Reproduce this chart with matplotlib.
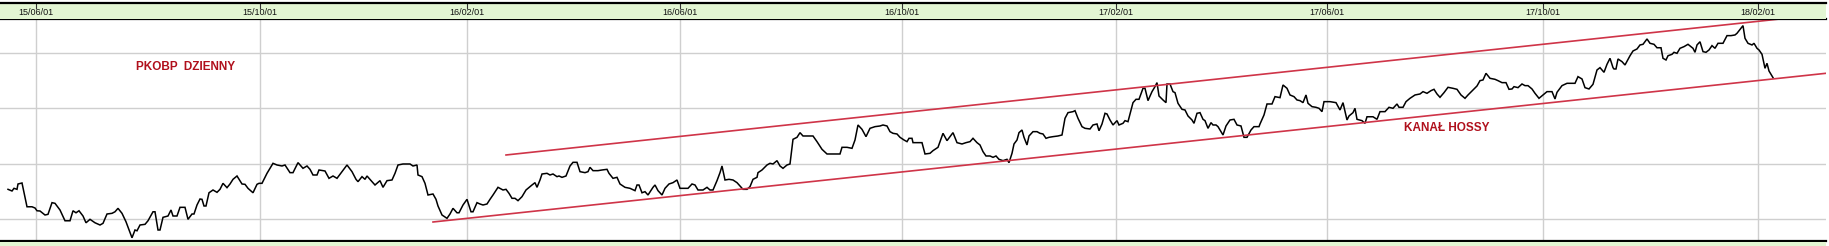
import matplotlib
matplotlib.use("Agg")
import matplotlib.pyplot as plt
import numpy as np

# time axis position of each close (chart units) and closing price
t = [
    8, 12, 14, 17, 18, 22, 27, 32, 35, 37, 40, 45,
    48, 52, 55, 60, 65, 70, 73, 76, 79, 83, 86, 90,
    95, 100, 103, 107, 112, 115, 118, 122, 126, 132, 135, 137,
    140, 145, 148, 153, 155, 158, 160, 163, 168, 171, 173, 177,
    180, 185, 188, 192, 194, 197, 200, 202, 204, 206, 209, 213,
    217, 220, 223, 227, 230, 233, 237, 242, 245, 248, 253, 257,
    259, 262, 267, 273, 277, 282, 285, 290, 293, 298, 303, 307,
    310, 313, 317, 319, 325, 329, 333, 337, 342, 347, 352, 356,
    358, 362, 365, 367, 369, 372, 375, 380, 383, 387, 392, 395,
    398, 403, 410, 413, 417, 418, 422, 425, 428, 433, 436, 438,
    442, 447, 450, 453, 457, 459, 463, 467, 471, 473, 477, 480,
    483, 487, 490, 493, 498, 503, 506, 509, 512, 515, 518, 522,
    526, 532, 535, 537, 540, 542, 547, 550, 553, 557, 559, 562,
    566, 570, 573, 577, 580, 585, 588, 590, 593, 598, 602, 607,
    609, 613, 617, 620, 625, 630, 635, 637, 639, 642, 645, 648,
    653, 655, 658, 662, 665, 669, 673, 677, 680, 685, 688, 692,
    695, 698, 703, 707, 710, 713, 717, 720, 722, 725, 729, 733,
    737, 740, 743, 747, 750, 753, 757, 758, 762, 767, 770, 773,
    777, 780, 783, 787, 790, 793, 797, 800, 803, 808, 813, 817,
    822, 827, 833, 840, 842, 847, 852, 855, 858, 862, 866, 870,
    875, 880, 883, 887, 890, 893, 897, 900, 904, 907, 909, 912,
    913, 918, 922, 925, 930, 933, 938, 943, 947, 950, 953, 957,
    962, 966, 970, 973, 977, 980, 983, 986, 990, 993, 996, 999,
    1003, 1007, 1009, 1012, 1014, 1017, 1019, 1022, 1024, 1027, 1029, 1033,
    1037, 1040, 1043, 1046, 1049, 1053, 1058, 1062, 1065, 1068, 1073, 1075,
    1078, 1082, 1085, 1090, 1093, 1097, 1099, 1102, 1105, 1107, 1110, 1113,
    1117, 1119, 1123, 1125, 1128, 1131, 1133, 1136, 1139, 1143, 1145, 1148,
    1152, 1155, 1157, 1159, 1163, 1166, 1167, 1170, 1173, 1175, 1178, 1182,
    1185, 1188, 1192, 1194, 1197, 1200, 1203, 1205, 1208, 1211, 1213, 1216,
    1218, 1223, 1226, 1230, 1234, 1237, 1241, 1244, 1247, 1251, 1254, 1259,
    1260, 1264, 1267, 1272, 1275, 1280, 1283, 1287, 1290, 1294, 1297, 1300,
    1303, 1306, 1308, 1312, 1316, 1319, 1322, 1324, 1330, 1336, 1340, 1343,
    1347, 1349, 1353, 1355, 1357, 1362, 1365, 1367, 1373, 1377, 1380, 1385,
    1389, 1393, 1397, 1399, 1403, 1406, 1410, 1415, 1420, 1423, 1427, 1431,
    1434, 1437, 1440, 1444, 1448, 1453, 1457, 1461, 1465, 1468, 1473, 1477,
    1480, 1483, 1486, 1490, 1495, 1498, 1502, 1506, 1509, 1512, 1514, 1518,
    1522, 1525, 1528, 1532, 1535, 1539, 1543, 1547, 1552, 1555, 1557, 1562,
    1567, 1572, 1575, 1578, 1582, 1585, 1589, 1593, 1597, 1600, 1604, 1607,
    1610, 1613, 1614, 1616, 1618, 1622, 1625, 1630, 1633, 1637, 1640, 1643,
    1647, 1650, 1654, 1657, 1661, 1663, 1666, 1668, 1672, 1674, 1677, 1680,
    1684, 1688, 1693, 1695, 1697, 1700, 1703, 1706, 1709, 1712, 1715, 1718,
    1723, 1727, 1731, 1735, 1737, 1741, 1743, 1745, 1748, 1752, 1754, 1757,
    1759, 1762, 1765, 1767, 1769, 1773,
]
close = [
    22.70, 22.55, 22.79, 22.70, 23.18, 23.27, 21.13, 21.13, 21.02, 20.77, 20.75, 20.39,
    20.45, 21.50, 21.44, 20.84, 19.87, 19.87, 20.77, 20.59, 20.77, 20.30, 19.69, 20.00,
    19.69, 19.49, 19.64, 20.48, 20.54, 20.68, 20.99, 20.54, 19.78, 18.34, 19.04, 18.97,
    19.49, 19.55, 19.87, 20.68, 20.68, 19.04, 19.04, 20.18, 20.30, 20.84, 20.30, 20.30,
    21.08, 21.08, 20.00, 20.48, 20.48, 21.29, 21.83, 21.80, 21.20, 21.20, 22.39, 22.64,
    22.43, 22.70, 23.24, 22.85, 23.18, 23.60, 23.90, 23.18, 23.15, 22.79, 22.39, 23.15,
    23.24, 23.24, 24.14, 25.04, 24.89, 24.80, 24.89, 24.20, 24.20, 25.10, 24.59, 24.80,
    24.50, 23.99, 23.99, 24.44, 24.35, 23.69, 23.90, 23.69, 24.29, 24.89, 24.29, 23.60,
    23.39, 23.84, 23.60, 23.90, 23.69, 23.39, 23.09, 23.48, 22.88, 23.48, 23.54, 24.14,
    24.89, 24.98, 24.98, 24.80, 24.89, 23.99, 23.84, 23.24, 22.19, 22.28, 21.80, 21.20,
    20.39, 20.09, 20.48, 20.99, 20.59, 20.59, 21.29, 21.80, 20.68, 20.68, 21.50, 21.38,
    21.29, 21.38, 21.80, 22.19, 22.88, 22.64, 22.70, 22.34, 21.89, 21.89, 21.68, 22.04,
    22.64, 23.09, 23.30, 22.88, 23.54, 24.08, 24.14, 23.99, 24.08, 23.84, 23.90, 23.78,
    23.90, 24.80, 25.13, 25.13, 24.29, 24.20, 24.29, 24.68, 24.38, 24.38, 24.44, 24.50,
    24.14, 23.69, 23.78, 23.18, 22.88, 22.79, 22.58, 23.09, 23.09, 22.39, 22.49, 22.19,
    22.88, 23.09, 22.58, 22.19, 22.79, 23.18, 23.30, 23.54, 22.79, 22.79, 22.79, 23.18,
    23.09, 22.64, 22.64, 22.88, 22.64, 22.64, 23.48, 24.20, 24.80, 23.54, 23.60, 23.54,
    23.30, 23.00, 22.70, 22.70, 22.94, 23.60, 23.78, 24.20, 24.44, 24.89, 25.04, 24.98,
    25.28, 24.80, 24.59, 24.89, 24.98, 27.20, 27.38, 27.80, 27.50, 27.50, 27.50, 26.99,
    26.30, 25.88, 25.88, 25.88, 26.48, 26.48, 26.39, 27.14, 28.49, 28.10, 27.44, 28.19,
    28.34, 28.40, 28.49, 28.40, 27.89, 27.74, 27.68, 27.38, 27.14, 26.99, 27.29, 27.29,
    26.90, 26.90, 26.90, 25.88, 25.94, 26.18, 26.48, 27.74, 27.08, 27.44, 27.80, 26.90,
    26.78, 26.90, 26.99, 27.29, 26.90, 26.69, 26.09, 25.70, 25.70, 25.58, 25.70, 25.40,
    25.28, 25.40, 25.10, 25.94, 26.78, 27.14, 27.80, 28.04, 27.38, 26.69, 27.50, 27.89,
    27.89, 27.74, 27.68, 27.29, 27.38, 27.44, 27.50, 27.59, 29.09, 29.60, 29.69, 29.78,
    29.09, 28.34, 28.19, 28.13, 28.49, 28.58, 27.97, 28.58, 29.54, 29.48, 28.94, 28.49,
    28.88, 28.49, 28.64, 28.88, 28.79, 29.84, 30.50, 30.80, 30.80, 31.79, 31.79, 30.68,
    31.49, 31.94, 32.30, 31.10, 30.74, 30.50, 32.18, 32.18, 31.49, 31.40, 30.44, 29.90,
    29.84, 29.30, 28.94, 28.64, 29.54, 29.60, 29.00, 28.88, 28.19, 28.70, 28.49, 28.49,
    28.34, 27.59, 28.40, 28.94, 29.00, 28.49, 28.40, 27.38, 27.38, 28.04, 28.34, 28.34,
    28.58, 29.39, 30.38, 30.38, 31.04, 30.95, 32.09, 31.79, 31.19, 31.04, 30.74, 30.68,
    30.50, 31.19, 30.44, 30.14, 30.08, 29.99, 29.69, 30.59, 30.59, 30.50, 29.84, 30.50,
    28.94, 29.30, 29.60, 29.99, 29.00, 28.88, 28.64, 29.23, 29.23, 29.00, 29.69, 29.69,
    30.08, 29.99, 30.38, 30.08, 30.08, 30.59, 30.89, 31.19, 31.28, 31.49, 31.34, 31.58,
    31.70, 31.28, 30.98, 31.40, 31.88, 31.79, 31.70, 31.19, 30.89, 31.19, 31.64, 32.00,
    32.48, 32.54, 33.14, 32.69, 32.60, 32.48, 32.30, 32.30, 31.70, 31.73, 31.94, 31.85,
    32.18, 32.03, 32.03, 31.73, 31.34, 30.89, 31.19, 31.49, 31.49, 30.83, 31.43, 32.03,
    32.24, 32.24, 32.24, 32.84, 32.63, 31.85, 31.73, 32.15, 33.44, 33.65, 33.23, 33.95,
    34.49, 33.65, 33.53, 33.53, 34.43, 34.19, 33.89, 34.72, 35.15, 35.33, 35.69, 35.75,
    36.23, 35.84, 35.75, 35.44, 35.44, 34.49, 34.34, 34.72, 34.85, 35.03, 34.94, 35.39,
    35.54, 35.75, 35.39, 35.03, 35.69, 35.98, 35.09, 35.03, 35.24, 35.63, 35.39, 35.84,
    35.84, 36.53, 36.53, 36.59, 36.74, 37.19, 37.43, 36.29, 35.84, 35.69, 35.84, 35.39,
    35.24, 34.85, 33.59, 34.04, 33.35, 32.75,
]

# date ticks on the top strip
tick_pos = [36, 259.5, 467.3, 680, 901.7, 1116, 1326.7, 1543.3, 1757.7]
tick_labels = ["15/06/01", "15/10/01", "16/02/01", "16/06/01", "16/10/01",
               "17/02/01", "17/06/01", "17/10/01", "18/02/01"]
price_grid = [20, 25, 30, 35]

# bull channel (kanał hossy) end points
lower_x = [433, 1829]
lower_v = [19.76, 33.17]
upper_x = [506, 1829]
upper_v = [25.79, 38.50]

W, H = 1829, 246
strip_green = "#e3f6d3"
red_line = "#cf3448"
red_text = "#b0101c"

fig = plt.figure(figsize=(W / 100, H / 100), dpi=100)
fig.patch.set_facecolor("white")

# main price panel
ax = fig.add_axes([0, 5 / H, 1826 / W, 221.7 / H])
ax.plot(t, close, color="black", lw=1.1, solid_joinstyle="miter")
ax.plot(lower_x, lower_v, color=red_line, lw=1.2)
ax.plot(upper_x, upper_v, color=red_line, lw=1.2)
ax.set_xlim(0, 1826)
ax.set_ylim(18.05, 38.0)
ax.set_xticks(tick_pos)
ax.set_yticks(price_grid)
ax.grid(True, color="#cfcfcf", lw=1.0)
ax.set_axisbelow(True)
ax.tick_params(length=0, labelbottom=False, labelleft=False)
for side in ["left", "right"]:
    ax.spines[side].set_visible(False)
for side in ["top", "bottom"]:
    ax.spines[side].set_linewidth(1.6)
    ax.spines[side].set_color("black")

ax.text(185.5, 33.71, "PKOBP  DZIENNY", color=red_text, fontsize=8.5,
        fontweight="bold", family="Liberation Sans", ha="center", va="center")
ax.text(1446.5, 28.22, "KANAŁ HOSSY", color=red_text, fontsize=8.5,
        fontweight="bold", family="Liberation Sans", ha="center", va="center")

# top date strip
top = fig.add_axes([0, 1 - 19.3 / H, 1826 / W, 16 / H])
top.set_facecolor(strip_green)
top.set_xlim(0, 1826)
top.set_ylim(0, 1)
top.set_xticks(tick_pos)
top.tick_params(top=True, bottom=False, labelbottom=False, direction="in",
                length=4, width=0.8, color="#333333")
top.set_yticks([])
for side in ["left", "right", "bottom"]:
    top.spines[side].set_visible(False)
top.spines["top"].set_linewidth(1.6)
for pos, lbl in zip(tick_pos, tick_labels):
    top.text(pos, 0.45, lbl, fontsize=6.5, family="Liberation Sans",
             ha="center", va="center", color="#111111")

# bottom strip
bottom = fig.add_axes([0, 0, 1826 / W, 4 / H])
bottom.set_facecolor(strip_green)
bottom.set_xticks([])
bottom.set_yticks([])
for side in ["left", "right", "top", "bottom"]:
    bottom.spines[side].set_visible(False)

fig.savefig("out.png", dpi=100)
